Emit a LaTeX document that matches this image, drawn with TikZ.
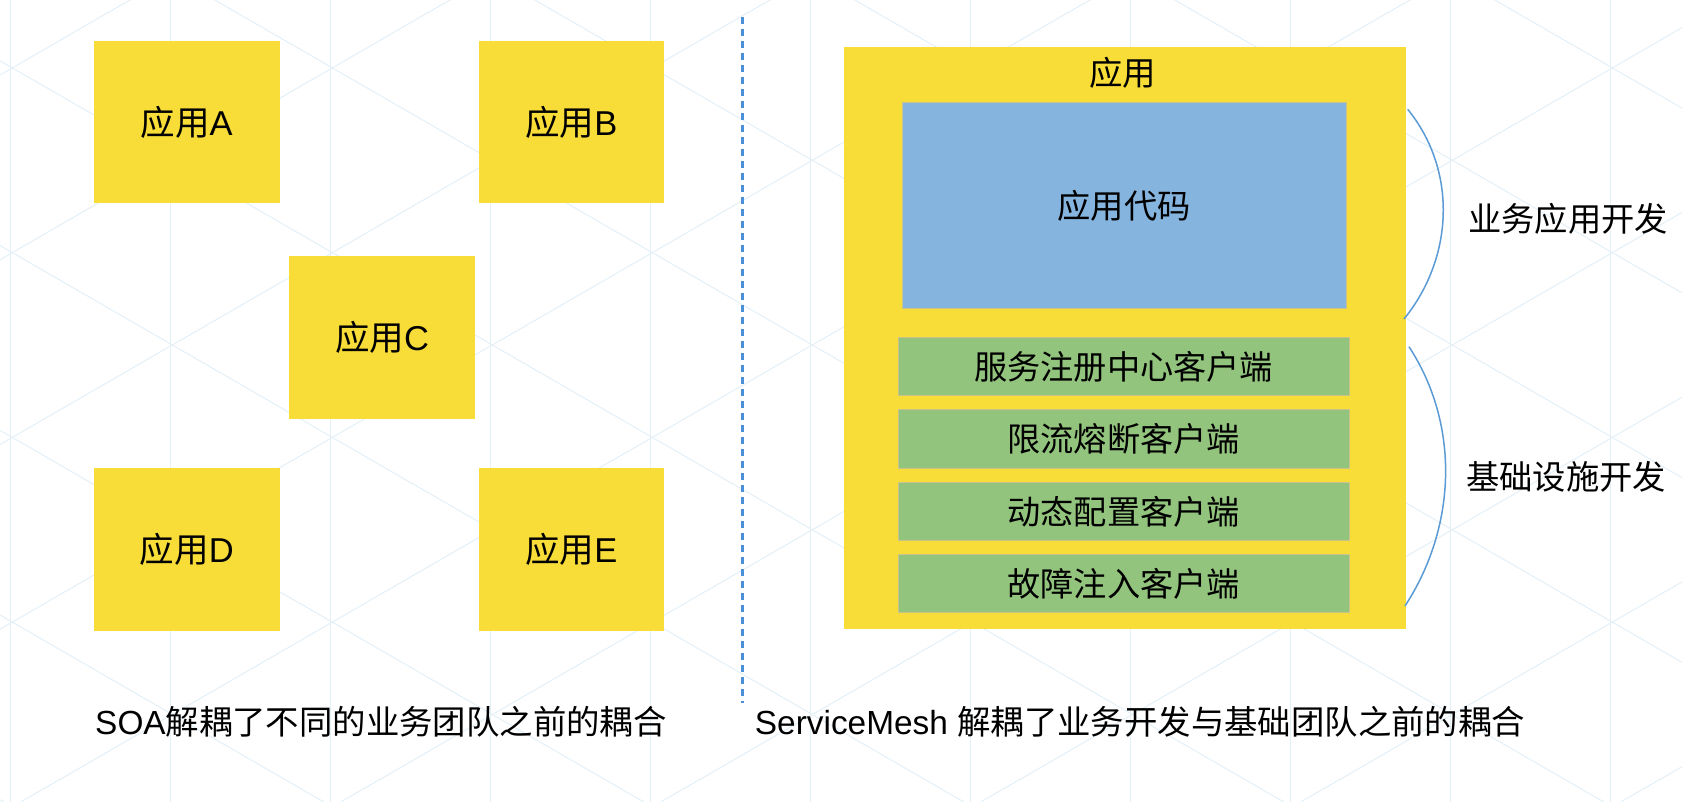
\documentclass[tikz,border=0pt]{standalone}
\usepackage{fontspec}
\setmainfont{Liberation Sans}
\newfontfamily\cjk{Noto Sans CJK SC}
\definecolor{appyellow}{HTML}{F8DC38}
\definecolor{codeblue}{HTML}{85B5DE}
\definecolor{libgreen}{HTML}{93C47D}
\definecolor{edgetan}{HTML}{C9C38A}
\definecolor{dashblue}{HTML}{4A90D9}
\definecolor{braceblue}{HTML}{5B9BD5}
\definecolor{bgline}{HTML}{E4F0F8}
\tikzset{
  sz/.style 2 args={minimum width=#1pt, minimum height=#2pt},
  appbox/.style={fill=appyellow, draw=none, inner sep=0pt, font=\fontsize{34.5}{40}\selectfont},
  codebox/.style={fill=codeblue, draw=edgetan, line width=1pt, inner sep=0pt, font=\fontsize{33.3}{40}\selectfont\cjk},
  libbox/.style={fill=libgreen, draw=edgetan, line width=1pt, inner sep=0pt, font=\fontsize{33.2}{40}\selectfont\cjk},
  plaintext/.style={inner sep=0pt, font=\fontsize{33.4}{40}\selectfont},
  divider/.style={draw=dashblue, line width=3pt, dash pattern=on 7pt off 5pt},
  bracecurve/.style={draw=braceblue, line width=1.5pt},
  bgstroke/.style={draw=bgline, line width=1pt}
}
\begin{document}
\begin{tikzpicture}[x=1pt,y=-1pt]
\useasboundingbox (0,0) rectangle (1682,802);
\fill[white] (0,0) rectangle (1682,802);
% background pattern
\begin{scope}
\clip (0,0) rectangle (1682,802);
\foreach \k in {0,...,10} \draw[bgstroke] ({10.7+160*\k},0) -- ({10.7+160*\k},802);
\foreach \m in {-6,...,4} \draw[bgstroke] (0,{60.75+184.75*\m}) -- (1682,{60.75+184.75*\m+971.1});
\foreach \m in {-1,...,9} \draw[bgstroke] (0,{75+184.75*\m}) -- (1682,{75+184.75*\m-971.1});
\end{scope}
% left side
\node[appbox, sz={185.5}{162}] (a) at (186.75,122) {{\cjk 应用}A};
\node[appbox, sz={185}{162}] (b) at (571.5,122) {{\cjk 应用}B};
\node[appbox, sz={186}{162.7}] (c) at (382,337.3) {{\cjk 应用}C};
\node[appbox, sz={185.5}{163}] (d) at (186.75,549.5) {{\cjk 应用}D};
\node[appbox, sz={185}{163}] (e) at (571.5,549.5) {{\cjk 应用}E};
\node[plaintext] (capl) at (381,722) {SOA{\cjk 解耦了不同的业务团队之前的耦合}};
% divider
\coordinate (d1) at (742,17);
\coordinate (d2) at (742,703);
\draw[divider] (d1) -- (d2);
% right side
\node[appbox, sz={561.8}{582}] (outer) at (1124.6,337.7) {};
\node[plaintext, font=\fontsize{33.4}{40}\selectfont\cjk] (title) at (1122.6,73) {应用};
\node[codebox, sz={443.5}{205.8}] (code) at (1124.25,205.4) {应用代码};
\node[libbox, sz={450.6}{58}] (g1) at (1123.7,366.7) {服务注册中心客户端};
\node[libbox, sz={450.6}{58.7}] (g2) at (1123.7,438.7) {限流熔断客户端};
\node[libbox, sz={450.6}{58.3}] (g3) at (1123.7,511.8) {动态配置客户端};
\node[libbox, sz={450.6}{58.3}] (g4) at (1123.7,583.8) {故障注入客户端};
% braces
\coordinate (t1) at (1407.7,109.3);
\coordinate (t2) at (1404,319);
\draw[bracecurve] (t1) .. controls (1457.5,170.7) and (1453.8,257.6) .. (t2);
\coordinate (u1) at (1409,346.7);
\coordinate (u2) at (1405,606);
\draw[bracecurve] (u1) .. controls (1460.4,425.6) and (1456.4,527.1) .. (u2);
\node[plaintext, font=\fontsize{33.3}{40}\selectfont\cjk] (biz) at (1568,219) {业务应用开发};
\node[plaintext, font=\fontsize{33.3}{40}\selectfont\cjk] (infra) at (1566,477) {基础设施开发};
\node[plaintext] (capr) at (1140,722) {ServiceMesh {\cjk 解耦了业务开发与基础团队之前的耦合}};
\end{tikzpicture}
\end{document}
